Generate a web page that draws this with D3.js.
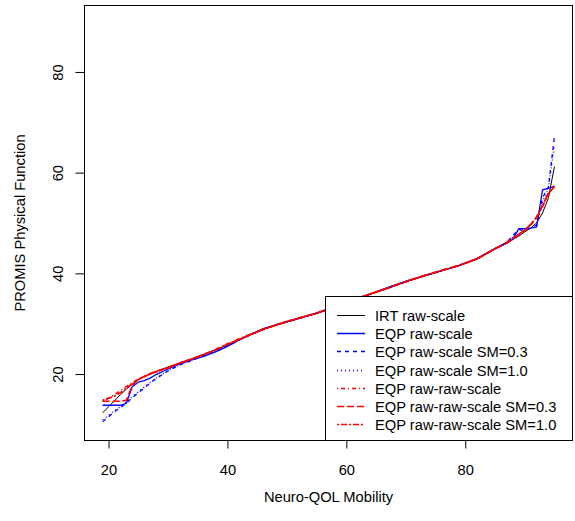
<!DOCTYPE html>
<html>
<head>
<meta charset="utf-8">
<script src="https://cdn.jsdelivr.net/npm/d3@7"></script>
<style>
	body { margin: 0; background: #fff; }
	svg { display: block; }
	text { font-family: "Liberation Sans", Arial, sans-serif; fill: #000; }
	.tick line, .domain { stroke: #000; }
</style>
</head>
<body>
<div id="chart"></div>
<script>

// raw score grid (Neuro-QOL Mobility)
const rawScores = [19, 20, 21, 22, 23, 24, 25, 26, 27, 28, 30, 32, 34, 36, 38, 40, 43, 46, 49, 52, 55, 58, 61, 64, 67, 70, 73, 76, 79, 82, 85, 87, 88, 89, 90, 91, 92, 93, 94, 95]

// linked PROMIS Physical Function scores, one array per method
const irtRaw =        [12.3, 13.5, 14.7, 15.9, 17.0, 18.0, 18.9, 19.5, 20.0, 20.5, 21.4, 22.2, 23.0, 23.9, 24.8, 25.8, 27.3, 28.8, 30.0, 31.1, 32.0, 33.2, 34.6, 35.8, 37.0, 38.3, 39.4, 40.5, 41.5, 42.8, 44.8, 46.0, 46.7, 47.4, 48.2, 49.0, 50.0, 52.0, 55.0, 61.2]
const eqpRaw =        [13.8, 13.8, 13.8, 13.8, 14.2, 17.5, 18.4, 18.7, 19.2, 19.9, 21.0, 22.0, 22.8, 23.5, 24.4, 25.5, 27.4, 29.0, 30.0, 31.0, 32.1, 33.3, 34.6, 35.9, 37.2, 38.4, 39.5, 40.5, 41.6, 43.0, 44.9, 46.0, 46.8, 48.9, 48.9, 49.0, 49.2, 56.6, 56.9, 57.3]
const eqpRawSM03 =    [10.5, 11.5, 12.5, 13.3, 14.2, 15.3, 16.3, 17.2, 18.2, 19.1, 20.6, 21.8, 22.7, 23.6, 24.5, 25.6, 27.3, 28.9, 30.1, 31.0, 32.1, 33.4, 34.7, 35.9, 37.1, 38.4, 39.5, 40.6, 41.6, 42.9, 44.9, 46.2, 47.5, 48.7, 48.6, 49.0, 49.6, 55.0, 57.2, 67.2]
const eqpRawSM10 =    [10.9, 11.8, 12.7, 13.5, 14.4, 15.5, 16.5, 17.4, 18.3, 19.2, 20.7, 21.9, 22.8, 23.7, 24.6, 25.7, 27.4, 28.9, 30.1, 31.1, 32.1, 33.3, 34.7, 35.9, 37.1, 38.4, 39.5, 40.5, 41.6, 42.9, 44.9, 46.1, 47.2, 48.5, 48.6, 49.0, 49.5, 54.2, 57.0, 65.5]
const eqpRawRaw =     [14.6, 15.2, 15.9, 16.7, 17.5, 18.3, 19.0, 19.5, 20.0, 20.4, 21.2, 22.2, 23.0, 23.8, 24.9, 26.0, 27.5, 28.9, 30.1, 31.2, 32.1, 33.4, 34.7, 35.9, 37.1, 38.4, 39.5, 40.6, 41.6, 42.9, 44.9, 46.2, 46.9, 47.7, 48.5, 49.6, 51.0, 53.3, 55.8, 57.4]
const eqpRawRawSM03 = [14.6, 14.6, 14.6, 14.6, 14.8, 17.8, 19.0, 19.5, 20.1, 20.5, 21.3, 22.2, 23.0, 23.9, 24.8, 25.9, 27.4, 28.9, 30.0, 31.1, 32.1, 33.3, 34.6, 35.9, 37.1, 38.3, 39.5, 40.5, 41.6, 42.9, 44.9, 46.1, 46.9, 47.7, 48.6, 49.7, 51.1, 53.4, 55.9, 57.2]
const eqpRawRawSM10 = [14.8, 15.2, 15.6, 16.3, 17.2, 18.1, 18.9, 19.5, 20.0, 20.5, 21.3, 22.2, 23.0, 23.9, 24.8, 25.9, 27.4, 28.9, 30.1, 31.1, 32.1, 33.3, 34.7, 35.9, 37.1, 38.4, 39.5, 40.6, 41.6, 42.9, 44.9, 46.1, 46.9, 47.8, 48.6, 49.7, 51.2, 53.5, 56.0, 57.3]

const xTicks = [20, 40, 60, 80]
const yTicks = [20, 40, 60, 80]

const legendLabels = ['IRT raw-scale', 'EQP raw-scale', 'EQP raw-scale SM=0.3', 'EQP raw-scale SM=1.0', 'EQP raw-raw-scale', 'EQP raw-raw-scale SM=0.3', 'EQP raw-raw-scale SM=1.0']

// style per series (R lty 1..6)
const series = [
	{values: irtRaw,        color: '#000000', dash: null,      w: 1},
	{values: eqpRaw,        color: '#0000ff', dash: null,      w: 1.3},
	{values: eqpRawSM03,    color: '#0000ff', dash: '4,4',     w: 1.3},
	{values: eqpRawSM10,    color: '#0000ff', dash: '1,3',     w: 1.3},
	{values: eqpRawRaw,     color: '#ff0000', dash: '1,3,4,3', w: 1.6},
	{values: eqpRawRawSM03, color: '#ff0000', dash: '7,3',     w: 1.6},
	{values: eqpRawRawSM10, color: '#ff0000', dash: '2,2,6,2', w: 1.6}
]

const width = 575
const height = 521
const margin = {top: 5.5, right: 2.5, bottom: 80.5, left: 84.5}

const svg = d3.select('#chart').append('svg')
	.attr('width', width)
	.attr('height', height)

// R style 4% expansion of the limits
const pad = (lo, hi) => [lo - (hi - lo) * 0.04, hi + (hi - lo) * 0.04]

const x = d3.scaleLinear()
	.domain(pad(19, 95))
	.range([margin.left, width - margin.right])

const y = d3.scaleLinear()
	.domain(pad(10, 90))
	.range([height - margin.bottom, margin.top])

const line = d3.line()
	.x((d, i) => x(rawScores[i]))
	.y(d => y(d))

// curves
svg.append('g')
	.selectAll('path')
	.data(series)
	.enter()
	.append('path')
	.attr('d', s => line(s.values))
	.attr('fill', 'none')
	.attr('stroke', s => s.color)
	.attr('stroke-width', s => s.w)
	.attr('stroke-dasharray', s => s.dash)

// axes
let xAxis = svg.append('g')
	.attr('transform', `translate(0,${height - margin.bottom})`)
	.call(d3.axisBottom(x).tickValues(xTicks).tickSize(8).tickPadding(16).tickFormat(d3.format('d')))

xAxis.select('.domain').remove()
xAxis.selectAll('text').style('font-size', '14.7px')

let yAxis = svg.append('g')
	.attr('transform', `translate(${margin.left},0)`)
	.call(d3.axisLeft(y).tickValues(yTicks).tickSize(9).tickFormat(d3.format('d')))

yAxis.select('.domain').remove()
yAxis.selectAll('text')
	.attr('x', 0)
	.attr('dy', 0)
	.attr('transform', 'translate(-21.5,0) rotate(-90)')
	.attr('text-anchor', 'middle')
	.style('font-size', '14.7px')

// plot box
svg.append('rect')
	.attr('x', margin.left)
	.attr('y', margin.top)
	.attr('width', width - margin.right - margin.left)
	.attr('height', height - margin.bottom - margin.top)
	.attr('fill', 'none')
	.attr('stroke', '#000')

// axis titles
svg.append('text')
	.attr('x', (margin.left + width - margin.right) / 2)
	.attr('y', 502)
	.attr('text-anchor', 'middle')
	.style('font-size', '14.7px')
	.text('Neuro-QOL Mobility')

svg.append('text')
	.attr('transform', `translate(25,${(margin.top + height - margin.bottom) / 2}) rotate(-90)`)
	.attr('text-anchor', 'middle')
	.style('font-size', '14.7px')
	.text('PROMIS Physical Function')

// legend, bottom right
let legend = svg.append('g')

legend.append('rect')
	.attr('x', 325.5)
	.attr('y', 296.5)
	.attr('width', width - margin.right - 325.5)
	.attr('height', height - margin.bottom - 296.5)
	.attr('fill', '#fff')
	.attr('stroke', '#000')

series.forEach((s, i) => {

	let ly = Math.round(315 + i * 18.2) + 0.5

	legend.append('line')
		.attr('x1', 337)
		.attr('x2', 365)
		.attr('y1', ly)
		.attr('y2', ly)
		.attr('stroke', s.color)
		.attr('stroke-width', s.w > 1 ? 1.5 : 1)
		.attr('stroke-dasharray', s.dash)

	legend.append('text')
		.attr('x', 375)
		.attr('y', ly)
		.attr('dy', '0.35em')
		.style('font-size', '14.7px')
		.text(legendLabels[i])
})

</script>
</body>
</html>
